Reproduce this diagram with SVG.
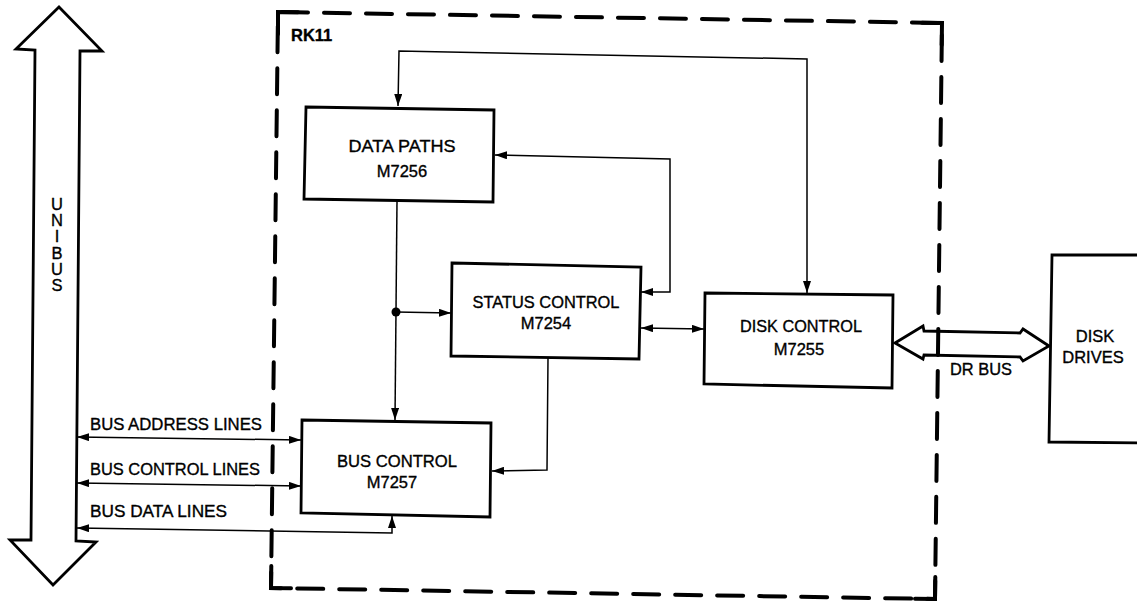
<svg xmlns="http://www.w3.org/2000/svg" width="1137" height="602" viewBox="0 0 1137 602">
<style>
.box{fill:#fff;stroke:#000;stroke-width:2.8}
.t{font-family:"Liberation Sans",Arial,sans-serif;font-size:16.5px;fill:#000;stroke:#000;stroke-width:0.35}
.c{fill:none;stroke:#000;stroke-width:1.5}
.dash{fill:none;stroke:#000;stroke-width:4;stroke-linecap:round}
</style>
<defs>
<marker id="ah" viewBox="0 0 12 8" refX="12" refY="4" markerWidth="12" markerHeight="8" markerUnits="userSpaceOnUse" orient="auto-start-reverse">
<path d="M0,0 L12,4 L0,8 z" fill="#000"/>
</marker>
</defs>
<rect width="1137" height="602" fill="#fff"/>

<g id="unibus">
<path d="M59,7 L102,51 L80,51 L76,541 L96,542 L53,585 L10,540 L31,540 L35,50 L16,49 Z" fill="#fff" stroke="#000" stroke-width="2.8" stroke-linejoin="miter"/>
<text class="t" x="57" y="195" font-size="14" writing-mode="vertical-rl" style="text-orientation:upright" letter-spacing="-1.8">UNIBUS</text>
</g>

<g id="connectors">
<path class="c" d="M398,106 L399,51 L807,59 L807,293" marker-start="url(#ah)" marker-end="url(#ah)"/>
<path class="c" d="M641,292 L670,292 L670,159 L495,155" marker-start="url(#ah)" marker-end="url(#ah)"/>
<path class="c" d="M397,201 L395,420" marker-end="url(#ah)"/>
<path class="c" d="M396,312 L451,313" marker-end="url(#ah)"/>
<path class="c" d="M641,328 L704,329" marker-start="url(#ah)" marker-end="url(#ah)"/>
<path class="c" d="M548,358 L547,470 L492,471" marker-end="url(#ah)"/>
<path class="c" d="M77,437 L301,440" marker-start="url(#ah)" marker-end="url(#ah)"/>
<path class="c" d="M77,483 L301,486" marker-start="url(#ah)" marker-end="url(#ah)"/>
<path class="c" d="M77,528 L392,533 L392,516" marker-start="url(#ah)" marker-end="url(#ah)"/>
<circle cx="396" cy="312" r="4.5" fill="#000"/>
<path d="M895,343 L923,326 L924,331 L1020,333 L1023,329 L1049,346 L1023,361 L1020,357 L924,355 L923,359 Z" fill="#fff" stroke="#000" stroke-width="2.8" stroke-linejoin="miter"/>
<text class="t" x="950" y="375" textLength="62" lengthAdjust="spacingAndGlyphs">DR BUS</text>
<text class="t" x="90" y="430" textLength="172" lengthAdjust="spacingAndGlyphs">BUS ADDRESS LINES</text>
<text class="t" x="90" y="475" textLength="170" lengthAdjust="spacingAndGlyphs">BUS CONTROL LINES</text>
<text class="t" x="90" y="517" textLength="137" lengthAdjust="spacingAndGlyphs">BUS DATA LINES</text>
</g>

<g id="rk11">
<path class="dash" d="M278,12 L942,23 L935,599 L271,588 Z" stroke-dasharray="26 16" stroke-dashoffset="-4"/>
<path class="dash" d="M278,34 L278,12 L298,12.3"/>
<path class="dash" d="M922,22.7 L942,23 L941.7,45"/>
<path class="dash" d="M935.3,577 L935,599 L915,598.7"/>
<path class="dash" d="M291,588.3 L271,588 L271.3,566"/>
<text class="t" x="291" y="41" font-weight="bold" stroke-width="0">RK11</text>
</g>

<g id="data-paths">
<path class="box" d="M306,107 L494,110 L493,202 L304,199 Z"/>
<text class="t" x="402" y="152" text-anchor="middle" textLength="107" lengthAdjust="spacingAndGlyphs">DATA PATHS</text>
<text class="t" x="402" y="177" text-anchor="middle">M7256</text>
</g>

<g id="status-control">
<path class="box" d="M452,263 L641,267 L639,359 L451,356 Z"/>
<text class="t" x="546" y="308" text-anchor="middle" textLength="147" lengthAdjust="spacingAndGlyphs">STATUS CONTROL</text>
<text class="t" x="546" y="329" text-anchor="middle">M7254</text>
</g>

<g id="disk-control">
<path class="box" d="M705,293 L893,295 L892,388 L704,384 Z"/>
<text class="t" x="801" y="332" text-anchor="middle" textLength="122" lengthAdjust="spacingAndGlyphs">DISK CONTROL</text>
<text class="t" x="799" y="355" text-anchor="middle">M7255</text>
</g>

<g id="bus-control">
<path class="box" d="M302,420 L491,423 L490,517 L301,513 Z"/>
<text class="t" x="397" y="467" text-anchor="middle" textLength="120" lengthAdjust="spacingAndGlyphs">BUS CONTROL</text>
<text class="t" x="392" y="488" text-anchor="middle">M7257</text>
</g>

<g id="disk-drives">
<path class="box" d="M1145,255 L1052,255 L1049,442 L1145,443"/>
<text class="t" x="1095" y="342" text-anchor="middle">DISK</text>
<text class="t" x="1093" y="363" text-anchor="middle">DRIVES</text>
</g>
</svg>
